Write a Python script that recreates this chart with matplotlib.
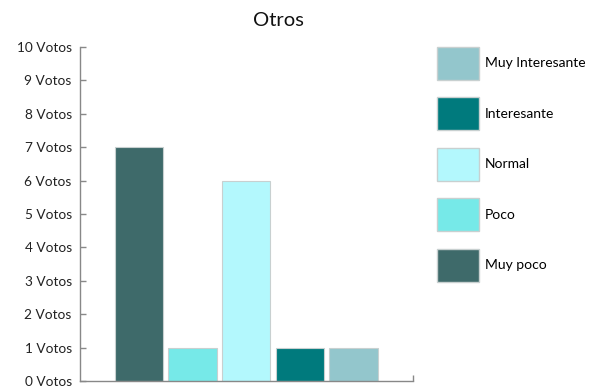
import matplotlib.pyplot as plt
from matplotlib.patches import Patch

# --- Data ---
categories = ["Muy poco", "Poco", "Normal", "Interesante", "Muy Interesante"]
votes = [7, 1, 6, 1, 1]
colors = ["#3e6a6a", "#76e9e8", "#b3f8fd", "#007a7d", "#93c6cc"]
ytick_labels = [f"{i} Votos" for i in range(11)]

plt.rcParams['font.family'] = ['Lato', 'DejaVu Sans']

# --- Plot ---
fig = plt.figure(figsize=(5.97, 3.90), dpi=100)
ax = fig.add_axes([80 / 597, 9 / 390, 333 / 597, 334 / 390])

x = list(range(len(categories)))
ax.bar(x, votes, width=0.9, color=colors, edgecolor="#c8d0d0", linewidth=0.8)

ax.set_ylim(0, 10)
ax.set_xlim(-1.1, 5.11)
ax.set_yticks(range(11))
ax.set_yticklabels(ytick_labels, fontsize=9.8, color="#222222")
ax.set_xticks([5.11])
ax.set_xticklabels([])
ax.tick_params(axis='both', direction='in', length=4.5, color="#888888", width=1)
ax.tick_params(axis='y', pad=6)

for s in ["top", "right"]:
    ax.spines[s].set_visible(False)
for s in ["left", "bottom"]:
    ax.spines[s].set_color("#888888")
    ax.spines[s].set_linewidth(1)

# Tiêu đề
fig.text(278 / 597, 1 - 21 / 390, "Otros", fontsize=14.5, ha='center', va='center', color="#111111")

# Legend (reverse order)
handles = [Patch(facecolor=c, edgecolor="#c8d0d0", label=l)
           for c, l in zip(colors[::-1], categories[::-1])]
fig.legend(handles=handles, loc='upper left', bbox_to_anchor=(437 / 597, 1 - 47 / 390),
           frameon=False, borderpad=0, borderaxespad=0, fontsize=10,
           handlelength=3.0, handleheight=3.28, labelspacing=1.25, handletextpad=0.45)

# --- Render ---
plt.savefig("out.png", dpi=100)
plt.close()
